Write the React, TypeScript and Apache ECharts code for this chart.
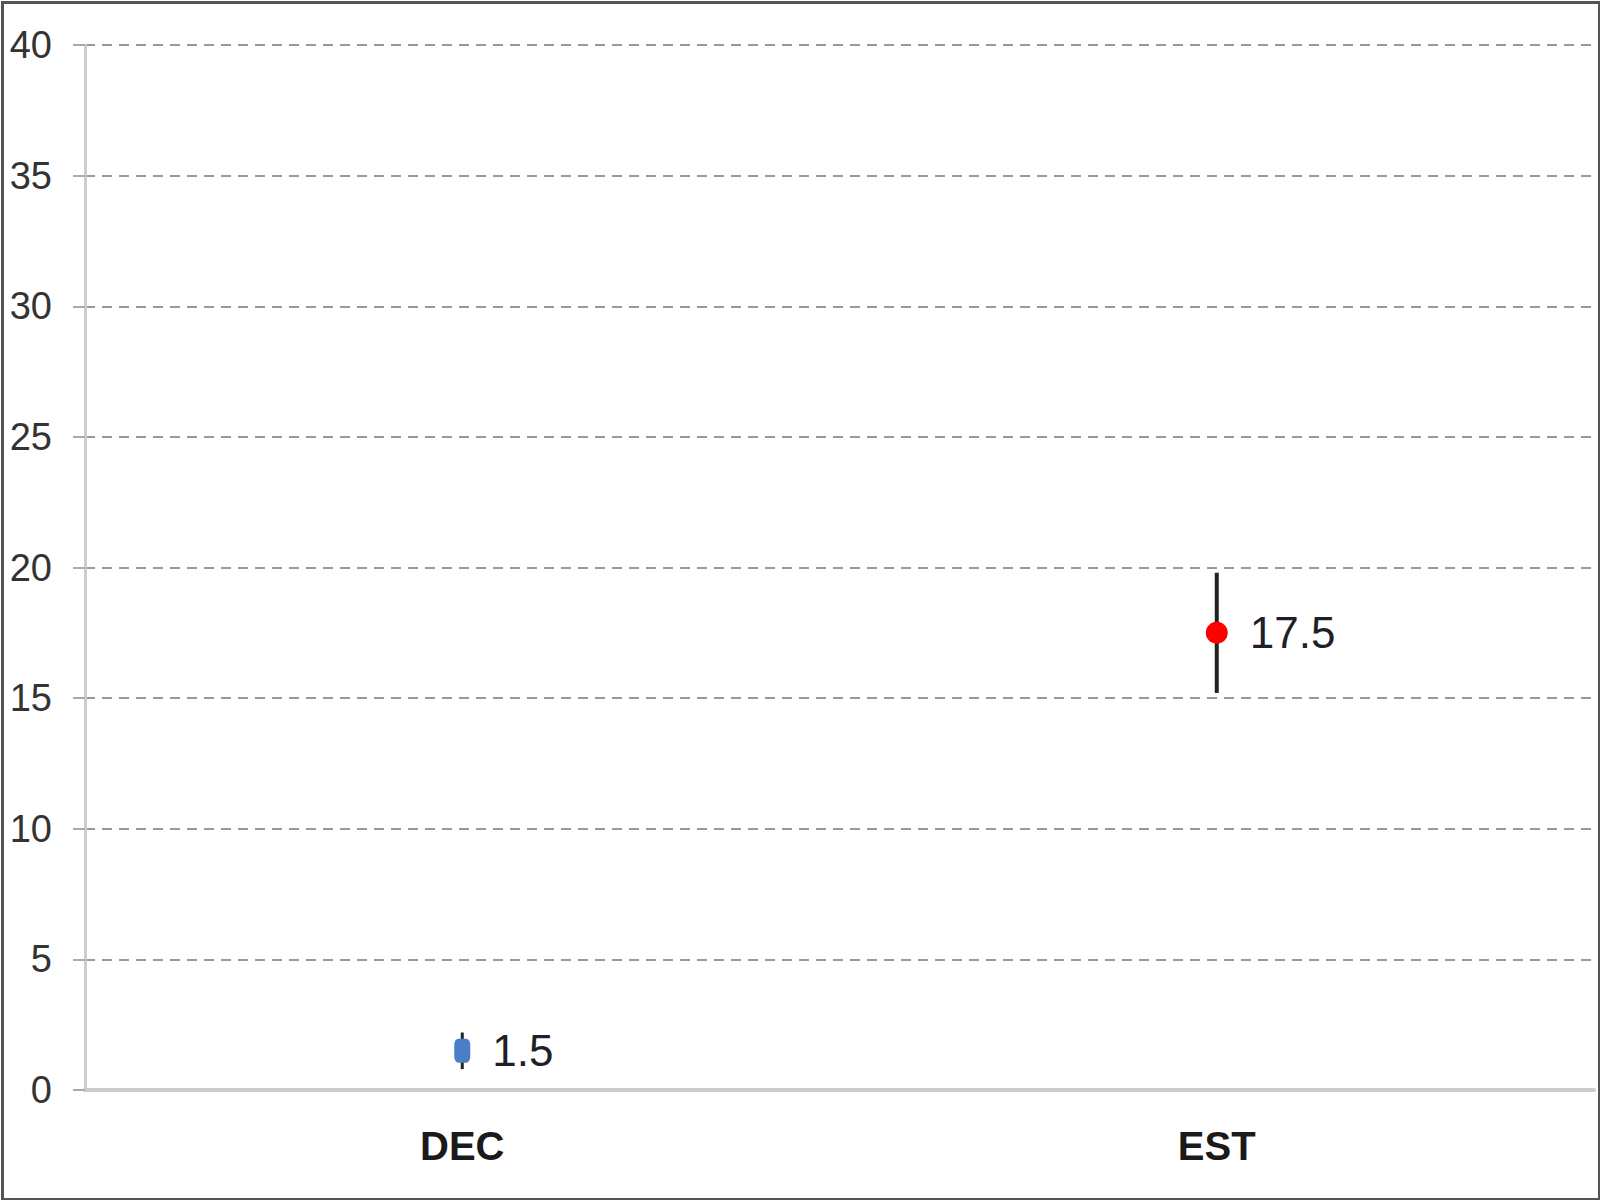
import React, { useEffect, useRef } from "react";
import * as echarts from "echarts";

const categories = ["DEC", "EST"];
const values = [1.5, 17.5];
const lows = [0.8, 15.2];
const highs = [2.2, 19.8];
const pointColors = ["#4a7fc8", "#ff0000"];
const yMin = 0;
const yMax = 40;
const yInterval = 5;

const FONT = "'Liberation Sans Narrow', 'Arial Narrow', 'Liberation Sans', Arial, sans-serif";

export default function App() {
  const ref = useRef<HTMLDivElement>(null);
  useEffect(() => {
    document.body.style.margin = "0";
    const chart = echarts.init(ref.current!, null, { renderer: "svg" });
    chart.setOption({
      animation: false,
      backgroundColor: "#ffffff",
      grid: { left: 85, right: 6, top: 45, bottom: 110, containLabel: false },
      xAxis: {
        type: "category",
        data: categories,
        boundaryGap: true,
        axisLine: { show: true, lineStyle: { color: "#cccccc", width: 4 } },
        axisTick: { show: false },
        axisLabel: {
          margin: 36,
          fontFamily: FONT,
          fontWeight: "bold",
          fontSize: 40,
          color: "#1a1a1a",
        },
        splitLine: { show: false },
      },
      yAxis: {
        type: "value",
        min: yMin,
        max: yMax,
        interval: yInterval,
        axisLine: { show: true, lineStyle: { color: "#cccccc", width: 3 } },
        axisTick: { show: true, length: 12, lineStyle: { color: "#aaaaaa", width: 2 } },
        axisLabel: {
          margin: 33,
          fontFamily: FONT,
          fontSize: 38,
          color: "#333333",
        },
        splitLine: {
          show: true,
          lineStyle: { color: "#999999", width: 2, type: [10, 7] },
        },
      },
      graphic: [
        {
          type: "rect",
          left: 0,
          top: 0,
          shape: { x: 1.5, y: 1.5, width: 1597, height: 1197 },
          style: { fill: "none", stroke: "#555555", lineWidth: 3 },
          z: 100,
          silent: true,
        },
      ],
      series: [
        {
          type: "custom",
          z: 2,
          data: categories.map((c, i) => [i, lows[i], highs[i]]),
          renderItem: (params: any, api: any) => {
            const x = api.value(0);
            const lo = api.coord([x, api.value(1)]);
            const hi = api.coord([x, api.value(2)]);
            return {
              type: "line",
              shape: { x1: lo[0], y1: lo[1], x2: hi[0], y2: hi[1] },
              style: { stroke: "#222222", lineWidth: params.dataIndex === 0 ? 3 : 4 },
            };
          },
        },
        {
          type: "scatter",
          z: 3,
          data: values.map((v, i) => ({
            value: [i, v],
            symbol: i === 0 ? "roundRect" : "circle",
            symbolSize: i === 0 ? [16, 24] : 22,
            itemStyle: { color: pointColors[i], opacity: 1 },
          })),
          label: {
            show: true,
            position: "right",
            distance: 22,
            fontFamily: FONT,
            fontSize: 44,
            color: "#1f1f2a",
            opacity: 1,
            formatter: (p: any) => String(p.value[1]),
          },
        },
      ],
    });
    return () => chart.dispose();
  }, []);
  return (
    <div
      ref={ref}
      style={{ position: "fixed", left: 0, top: 0, width: 1600, height: 1200 }}
    />
  );
}
